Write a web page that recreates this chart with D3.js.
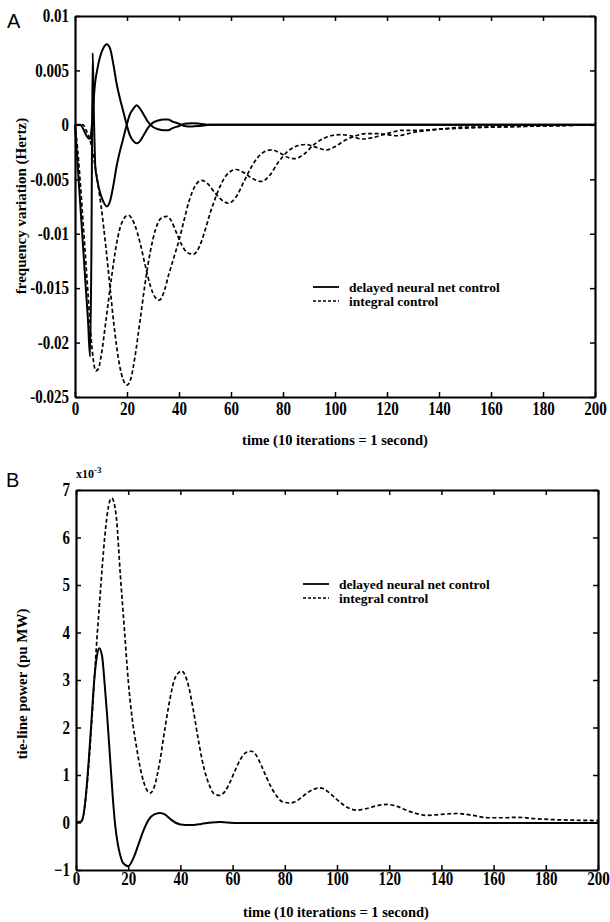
<!doctype html>
<html>
<head>
<meta charset="utf-8">
<script src="https://d3js.org/d3.v7.min.js"></script>
<style>
  body { margin: 0; background: #fff; }
  text { font-family: "Liberation Serif", "Times New Roman", serif; font-weight: bold; fill: #000; }
</style>
</head>
<body>
<svg id="svg1" width="610" height="922"></svg>
<script>
// ---- data: [time, value] ----
const xTicks = [0, 20, 40, 60, 80, 100, 120, 140, 160, 180, 200];

const yTicksA = [0.01, 0.005, 0, -0.005, -0.01, -0.015, -0.02, -0.025];
const yLabelsA = ["0.01", "0.005", "0", "-0.005", "-0.01", "-0.015", "-0.02", "-0.025"];
const yTicksB = [-1, 0, 1, 2, 3, 4, 5, 6, 7];

// panel A, delayed neural net control (two areas)
const neuralA1 = [[0,0],[2,0],[3,-0.0003],[4,-0.0008],[5,-0.0012],[5.8,-0.0013],[6.5,0],[7.1,0.002],[7.7,0.0038],[8.5,0.005],[9.6,0.0062],[11,0.0071],[12.2,0.0074],[13.5,0.007],[14.8,0.0055],[16,0.0038],[17.3,0.0024],[18.6,0.0012],[19.9,0],[21,-0.0009],[22.5,-0.0015],[23.7,-0.0017],[25,-0.0015],[26.5,-0.0009],[28,-0.0003],[30,0.0002],[32,0.0004],[34,0.0005],[35.8,0.0005],[37.5,0.0003],[40,0.0001],[42,-0.0001],[45,-0.00015],[48,-0.0001],[52,0],[200,0]];
const neuralA2 = [[0,0],[1,-0.0036],[2,-0.0072],[3,-0.0108],[4,-0.0144],[5,-0.018],[5.8,-0.0213],[6.3,-0.012],[6.8,0.0066],[7.3,0.0005],[7.8,-0.0038],[8.5,-0.005],[9.6,-0.0062],[11,-0.0071],[12.2,-0.0075],[13.5,-0.007],[14.8,-0.0055],[16,-0.0038],[17.3,-0.0024],[18.6,-0.0012],[19.9,0],[21,0.0009],[22.5,0.0015],[23.7,0.0018],[25,0.0015],[26.5,0.0009],[28,0.0003],[30,-0.0002],[32,-0.0004],[34,-0.0005],[35.8,-0.0005],[37.5,-0.0003],[40,-0.0001],[42,0.0001],[45,0.00015],[48,0.0001],[52,0],[200,0]];

// panel A, integral control (two areas)
const integralA1 = [[0,0],[1,-0.0022],[2,-0.0052],[3,-0.0086],[4,-0.012],[5,-0.0155],[6,-0.019],[7,-0.0215],[8,-0.0226],[9,-0.0224],[10,-0.0213],[12,-0.0178],[14,-0.0141],[16,-0.0109],[18,-0.009],[20.5,-0.0083],[23,-0.0092],[25,-0.0108],[27,-0.0129],[29,-0.0148],[31,-0.0159],[32.5,-0.0161],[34,-0.0155],[36,-0.0138],[38,-0.0122],[40,-0.0106],[42,-0.0087],[44,-0.0069],[46,-0.0057],[48.7,-0.0051],[51,-0.0054],[54,-0.0063],[57,-0.007],[59,-0.0072],[62,-0.0066],[65,-0.0052],[68,-0.0038],[72,-0.0026],[75.6,-0.0023],[79,-0.0026],[82,-0.003],[84.6,-0.0031],[88,-0.0027],[92,-0.0018],[96,-0.0012],[102,-0.0009],[106,-0.001],[110,-0.0013],[114,-0.0012],[120,-0.0008],[126,-0.0005],[132,-0.0005],[140,-0.0004],[150,-0.0002],[160,-0.0002],[180,-0.0001],[200,0]];
const integralA2 = [[0,0],[3,0],[4.5,-0.0006],[6,-0.0016],[8,-0.0042],[10,-0.0074],[12,-0.0115],[13.5,-0.015],[15,-0.0184],[17,-0.0219],[18.5,-0.0234],[20,-0.0239],[21.5,-0.0233],[23,-0.0214],[25,-0.018],[27,-0.0145],[29,-0.0116],[31,-0.0096],[33,-0.0086],[35.3,-0.0084],[37,-0.0088],[39,-0.0099],[41,-0.011],[43,-0.0117],[45.5,-0.0119],[48,-0.0111],[50,-0.0097],[52,-0.0081],[55,-0.0061],[58,-0.0047],[62,-0.0041],[65,-0.0044],[68,-0.0049],[71.8,-0.0052],[75,-0.0046],[78,-0.0035],[82,-0.0024],[86,-0.0019],[89,-0.0018],[92,-0.002],[96.8,-0.0023],[100,-0.002],[104,-0.0014],[108,-0.001],[112,-0.0008],[116,-0.0008],[120,-0.0009],[124,-0.001],[130,-0.0007],[140,-0.0004],[150,-0.0003],[160,-0.0002],[180,-0.0001],[200,0]];

// panel B, tie-line power (x10^-3 pu MW)
const neuralB = [[0,0],[2,0.02],[3,0.2],[4,0.7],[5,1.4],[6,2.2],[7,3.0],[8,3.5],[8.9,3.67],[10,3.5],[11,2.9],[12,2.2],[13,1.4],[14,0.6],[15,-0.05],[16,-0.45],[17,-0.7],[18,-0.85],[20,-0.92],[22,-0.75],[24,-0.45],[26,-0.15],[28,0.07],[30,0.17],[32.2,0.2],[34,0.17],[36,0.08],[38,0],[40,-0.04],[42,-0.05],[45,-0.05],[48,-0.03],[52,0],[55,0.01],[58,0],[62,-0.01],[80,-0.01],[120,-0.01],[200,-0.01]];
const integralB = [[0,0],[2,0.02],[3,0.2],[4,0.65],[5,1.3],[6,2.1],[7,3.0],[8,3.85],[9,4.6],[10,5.35],[11,6.0],[12,6.5],[13,6.78],[13.7,6.83],[14.5,6.75],[15.5,6.4],[17,5.2],[18.5,4.1],[20,3.0],[21.5,2.2],[23,1.65],[25,1.05],[27,0.7],[28.4,0.62],[30,0.75],[32,1.25],[34,1.95],[36,2.6],[38,3.05],[40.5,3.19],[43,2.9],[45,2.35],[47,1.7],[49,1.15],[51,0.8],[53,0.6],[55.2,0.57],[57,0.65],[59,0.85],[61,1.1],[63,1.33],[65,1.47],[67.3,1.5],[69,1.42],[71,1.2],[73,0.95],[75,0.72],[77,0.55],[79,0.44],[82,0.41],[85,0.47],[88,0.6],[91,0.7],[93.5,0.73],[96,0.67],[99,0.53],[102,0.39],[105,0.29],[107.5,0.26],[111,0.29],[115,0.35],[119,0.38],[123,0.34],[127,0.25],[131,0.18],[134.4,0.15],[140,0.17],[146,0.19],[152,0.15],[158,0.1],[164,0.1],[169,0.11],[176,0.08],[183,0.06],[190,0.05],[200,0.04]];

const svg = d3.select("#svg1");
svg.append("rect").attr("width", 610).attr("height", 922).attr("fill", "#fff");

const dash = "4,2.5";

function drawPanel(opt) {
  const g = svg.append("g");
  const x = d3.scaleLinear().domain([0, 200]).range(opt.xr);
  const y = d3.scaleLinear().domain(opt.yd).range(opt.yr);
  const [x0, x1] = opt.xr, [yb, yt] = opt.yr;

  const fmt = opt.yLabels ? (d, i) => opt.yLabels[i] : d3.format("d");

  const axB = g.append("g").attr("transform", `translate(0,${yb})`)
    .call(d3.axisBottom(x).tickValues(xTicks).tickSize(-5).tickSizeOuter(0).tickPadding(opt.bpad).tickFormat(d3.format("d")));
  const axT = g.append("g").attr("transform", `translate(0,${yt})`)
    .call(d3.axisTop(x).tickValues(xTicks).tickSize(-5).tickSizeOuter(0).tickFormat(""));
  const axL = g.append("g").attr("transform", `translate(${x0},0)`)
    .call(d3.axisLeft(y).tickValues(opt.yTicks).tickSize(-5).tickSizeOuter(0).tickPadding(6).tickFormat(fmt));
  const axR = g.append("g").attr("transform", `translate(${x1},0)`)
    .call(d3.axisRight(y).tickValues(opt.yTicks).tickSize(-5).tickSizeOuter(0).tickFormat(""));

  [axB, axT, axL, axR].forEach(a => {
    a.attr("font-family", null).attr("font-size", null);
    a.select(".domain").attr("stroke-width", 2.2);
    a.selectAll(".tick line").attr("stroke-width", 1.5);
    a.selectAll("text").attr("font-size", 15).attr("transform", "scale(1,1.2)");
  });

  const line = d3.line().x(d => x(d[0])).y(d => y(d[1])).curve(d3.curveMonotoneX);
  opt.series.forEach(s => {
    g.append("path").datum(s.data)
      .attr("d", line)
      .attr("fill", "none")
      .attr("stroke", "#000")
      .attr("stroke-width", s.dashed ? 1.7 : 2)
      .attr("stroke-dasharray", s.dashed ? dash : null);
  });

  // legend
  const lg = g.append("g").attr("transform", `translate(${opt.legend[0]},${opt.legend[1]})`);
  [["delayed neural net control", false], ["integral control", true]].forEach((r, i) => {
    lg.append("line").attr("x1", 0).attr("x2", 26).attr("y1", i * 14).attr("y2", i * 14)
      .attr("stroke", "#000").attr("stroke-width", r[1] ? 1.5 : 1.8)
      .attr("stroke-dasharray", r[1] ? "3,2" : null);
    lg.append("text").attr("x", 36).attr("y", i * 14 + 4.5).attr("font-size", 13.5).text(r[0]);
  });

  // axis titles
  g.append("text").attr("x", opt.xTitle[0]).attr("y", opt.xTitle[1])
    .attr("text-anchor", "middle").attr("font-size", 14.5).text("time (10 iterations = 1 second)");
  g.append("text").attr("transform", `translate(${opt.yTitle[0]},${opt.yTitle[1]}) rotate(-90)`)
    .attr("text-anchor", "middle").attr("font-size", 15).text(opt.yTitleText);

  g.append("text").attr("x", opt.letter[0]).attr("y", opt.letter[1])
    .style("font-family", "'Liberation Sans', Arial, sans-serif").style("font-weight", "normal")
    .attr("font-size", 20).text(opt.letterText);
  return g;
}

drawPanel({
  xr: [75, 595], yr: [397, 16], yd: [-0.025, 0.01],
  yTicks: yTicksA, yLabels: yLabelsA, bpad: 4.3,
  series: [
    { data: integralA1, dashed: true }, { data: integralA2, dashed: true },
    { data: neuralA1, dashed: false }, { data: neuralA2, dashed: false }
  ],
  legend: [313, 287],
  xTitle: [335, 445], yTitle: [26, 206], yTitleText: "frequency variation (Hertz)",
  letter: [7, 28], letterText: "A"
});

const gB = drawPanel({
  xr: [76, 598], yr: [870, 490], yd: [-1, 7],
  yTicks: yTicksB, yLabels: null, bpad: 1.9,
  series: [
    { data: integralB, dashed: true }, { data: neuralB, dashed: false }
  ],
  legend: [303, 584],
  xTitle: [336, 917], yTitle: [27, 684], yTitleText: "tie-line power (pu MW)",
  letter: [6, 487], letterText: "B"
});

const ex = gB.append("text").attr("x", 76).attr("y", 478).attr("font-size", 12);
ex.append("tspan").text("x10");
ex.append("tspan").attr("dy", -5).attr("font-size", 9).text("-3");
</script>
</body>
</html>
